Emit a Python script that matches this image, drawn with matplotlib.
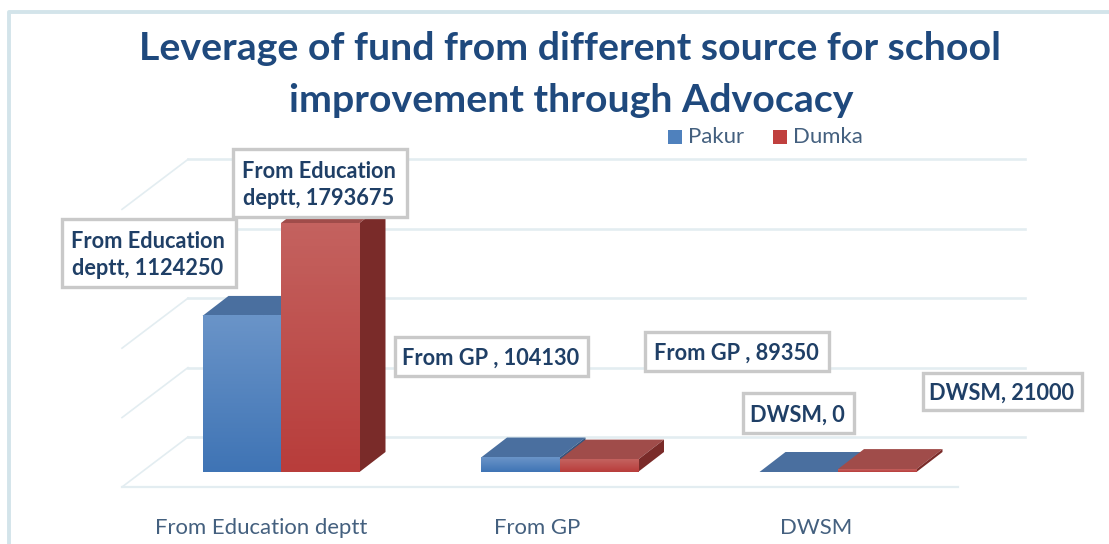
import numpy as np
import matplotlib
matplotlib.use("Agg")
import matplotlib.pyplot as plt
from matplotlib.colors import LinearSegmentedColormap
from matplotlib.patches import Polygon, Rectangle

W, H = 1109, 544

title_lines = ["Leverage of fund from different source for school", "improvement through Advocacy"]
categories = ["From Education deptt", "From GP", "DWSM"]
series_names = ["Pakur", "Dumka"]
pakur = [1124250, 104130, 0]
dumka = [1793675, 89350, 21000]
grid_values = [0, 500000, 1000000, 1500000, 2000000]
pakur_labels = ["From Education\ndeptt, 1124250", "From GP , 104130", "DWSM, 0"]
dumka_labels = ["From Education\ndeptt, 1793675", "From GP , 89350", "DWSM, 21000"]

plt.rcParams["font.family"] = ["Lato", "DejaVu Sans"]

# pixel layout of the plane the bars stand on
px_per_unit = 249 / 1793675
px_per_cat = 278.5
x0_px, y0_px = 281, 472
bar_w = 78.5 / px_per_cat
dx = 26 / px_per_cat
dy = 20 / px_per_unit

fig = plt.figure(figsize=(W / 100, H / 100), dpi=100, facecolor="white")
ax = fig.add_axes([0, 0, 1, 1])
ax.set_xlim(-x0_px / px_per_cat, (W - x0_px) / px_per_cat)
ax.set_ylim(-(H - y0_px) / px_per_unit, y0_px / px_per_unit)
ax.axis("off")


def px(x, y):
    return (x / W, 1 - y / H)


def box(x1, y1, x2, y2):
    ax.add_patch(Rectangle(px(x1, y2), (x2 - x1) / W, (y2 - y1) / H, transform=ax.transAxes,
                           fc="white", ec="#c9c9c9", lw=2.4, zorder=6))


# outer frame of the slide
ax.plot(*zip(px(9, 544), px(9, 12), px(1109, 12)), transform=ax.transAxes, color="#d3e4ea", lw=2.8, zorder=1)

# walls and floor
grid_col = "#e3edf1"
for v in grid_values:
    yb = v + 35 / px_per_unit
    xl = (188 - x0_px) / px_per_cat
    ax.plot([xl, (1025 - x0_px) / px_per_cat], [yb, yb], color=grid_col, lw=1.9, zorder=2)
    ax.plot([(122 - x0_px) / px_per_cat, xl], [v - 15 / px_per_unit, yb], color=grid_col, lw=1.2, zorder=2)
ax.plot([(122 - x0_px) / px_per_cat, (958 - x0_px) / px_per_cat], [-15 / px_per_unit] * 2, color=grid_col, lw=1.6, zorder=2)

blue_cm = LinearSegmentedColormap.from_list("b", ["#3f74b5", "#6a94c8"])
red_cm = LinearSegmentedColormap.from_list("r", ["#b83d3b", "#c4625f"])
grad = np.linspace(0, 1, 64).reshape(-1, 1)


def draw_bar(left, val, cmap, top_col, side_col, z):
    right = left + bar_w
    top = Polygon([(left, val), (right, val), (right + dx, val + dy), (left + dx, val + dy)], fc=top_col, ec="none", zorder=z)
    side = Polygon([(right, 0), (right + dx, dy), (right + dx, val + dy), (right, val)], fc=side_col, ec="none", zorder=z)
    ax.add_patch(top)
    ax.add_patch(side)
    if val > 0:
        ax.imshow(grad, cmap=cmap, aspect="auto", origin="lower", extent=(left, right, 0, val), zorder=z + 0.1)


for i in range(len(categories)):
    draw_bar(i - bar_w, pakur[i], blue_cm, "#4a6f9f", "#34557f", 3)
    draw_bar(i, dumka[i], red_cm, "#a04c4a", "#7a2b29", 4)

ax.set_xlim(-x0_px / px_per_cat, (W - x0_px) / px_per_cat)
ax.set_ylim(-(H - y0_px) / px_per_unit, y0_px / px_per_unit)

# data labels
label_boxes = [
    (62, 219, 236, 287, pakur_labels[0]),
    (233, 149, 407, 217, dumka_labels[0]),
    (395, 337, 588, 376, pakur_labels[1]),
    (645, 332, 829, 371, dumka_labels[1]),
    (743, 393, 854, 433, pakur_labels[2]),
    (923, 373, 1082, 410, dumka_labels[2]),
]
for x1, y1, x2, y2, s in label_boxes:
    box(x1, y1, x2, y2)
    ax.text(*px((x1 + x2) / 2 - 1, (y1 + y2) / 2 + 2), s, transform=ax.transAxes, ha="center", va="center",
            fontsize=15.7, fontweight="bold", color="#1f3f66", linespacing=1.3, zorder=7)

ax.text(*px(570, 48), title_lines[0], transform=ax.transAxes, ha="center", va="center",
        fontsize=28.3, fontweight="bold", color="#1f497d", zorder=7)
ax.text(*px(571, 101), title_lines[1], transform=ax.transAxes, ha="center", va="center",
        fontsize=28.3, fontweight="bold", color="#1f497d", zorder=7)

# legend
ax.add_patch(Rectangle(px(668, 144), 14 / W, 14 / H, transform=ax.transAxes, fc="#4f81bd", ec="none", zorder=7))
ax.add_patch(Rectangle(px(773, 144), 14 / W, 14 / H, transform=ax.transAxes, fc="#c0403e", ec="none", zorder=7))
ax.text(*px(688, 137), series_names[0], transform=ax.transAxes, va="center", fontsize=15.9, color="#44607f", zorder=7)
ax.text(*px(793, 137), series_names[1], transform=ax.transAxes, va="center", fontsize=15.9, color="#44607f", zorder=7)

# category labels
for i, c in enumerate(categories):
    ax.text(*px([261, 537, 816][i], 528), c, transform=ax.transAxes, ha="center", va="center",
            fontsize=15.9, color="#44607f", zorder=7)

fig.savefig("out.png", dpi=100)
